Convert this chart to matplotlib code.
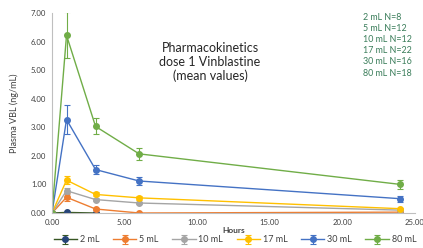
import matplotlib
matplotlib.use("Agg")
import matplotlib.pyplot as plt

hours = [0, 1, 3, 6, 24]
series_names = ["2 mL", "5 mL", "10 mL", "17 mL", "30 mL", "80 mL"]
v2 = [0.0, 0.02, 0.0]
e2 = [0.0, 0.02, 0.02]
v5 = [0.0, 0.55, 0.14, 0.0, 0.03]
e5 = [0.0, 0.14, 0.05, 0.02, 0.02]
v10 = [0.0, 0.78, 0.47, 0.35, 0.10]
e10 = [0.0, 0.10, 0.05, 0.04, 0.02]
v17 = [0.0, 1.15, 0.65, 0.53, 0.15]
e17 = [0.0, 0.13, 0.07, 0.06, 0.04]
v30 = [0.0, 3.27, 1.52, 1.12, 0.50]
e30 = [0.0, 0.50, 0.17, 0.13, 0.10]
v80 = [0.0, 6.22, 3.03, 2.07, 1.00]
e80 = [0.0, 0.80, 0.28, 0.20, 0.15]
n_labels = ["2 mL N=8", "5 mL N=12", "10 mL N=12", "17 mL N=22", "30 mL N=16", "80 mL N=18"]
x_ticks = [0, 5, 10, 15, 20, 25]
y_ticks = [0, 1, 2, 3, 4, 5, 6, 7]

plt.rcParams['font.family'] = ['Lato', 'DejaVu Sans']

fig = plt.figure(figsize=(4.23, 2.48), dpi=100)
ax = fig.add_axes([52/423, 1-213/248, (415-52)/423, 200/248])

styles = [
    (v2, e2, '#375623', '#264478'),
    (v5, e5, '#ED7D31', '#ED7D31'),
    (v10, e10, '#A5A5A5', '#A5A5A5'),
    (v17, e17, '#FFC000', '#FFC000'),
    (v30, e30, '#4472C4', '#4472C4'),
    (v80, e80, '#70AD47', '#70AD47'),
]
handles = []
for name, (v, e, lc, mc) in zip(series_names, styles):
    xs = hours[:len(v)]
    h = ax.errorbar(xs, v, yerr=e, color=lc, marker='o', markersize=4,
                    markerfacecolor=mc, markeredgecolor=mc, linewidth=1.0,
                    elinewidth=0.8, capsize=2.2, capthick=0.8, label=name)
    handles.append(h)

ax.set_xlim(0, 25)
ax.set_ylim(0, 7)
ax.set_xticks(x_ticks)
ax.set_xticklabels([f"{t:.2f}" for t in x_ticks])
ax.set_yticks(y_ticks)
ax.set_yticklabels([f"{t:.2f}" for t in y_ticks])
ax.tick_params(length=0, labelsize=5.6, colors='#404040', pad=4)
for s in ['top', 'right']:
    ax.spines[s].set_visible(False)
for s in ['left', 'bottom']:
    ax.spines[s].set_color('#BFBFBF')
    ax.spines[s].set_linewidth(0.8)
ax.set_xlabel("Hours", fontsize=6, fontweight='bold', color='#404040', labelpad=1)
ax.set_ylabel("Plasma VBL (ng/mL)", fontsize=6.5, color='#404040', labelpad=9)

fig.text(210/423, 1-62/248, "Pharmacokinetics\ndose 1 Vinblastine\n(mean values)",
         ha='center', va='center', fontsize=9, color='#262626', linespacing=1.15)
fig.text(363/423, 1-13/248, "\n".join(n_labels), ha='left', va='top',
         fontsize=6.4, color='#3A7D5A', linespacing=1.3)

leg = fig.legend(handles=handles, labels=series_names, loc='center',
                 bbox_to_anchor=(235/423, 1-240/248), ncol=6, frameon=False,
                 fontsize=6.5, handlelength=2.6, columnspacing=1.5,
                 handletextpad=0.3, labelcolor='#404040')

fig.savefig("out.png", dpi=100)
